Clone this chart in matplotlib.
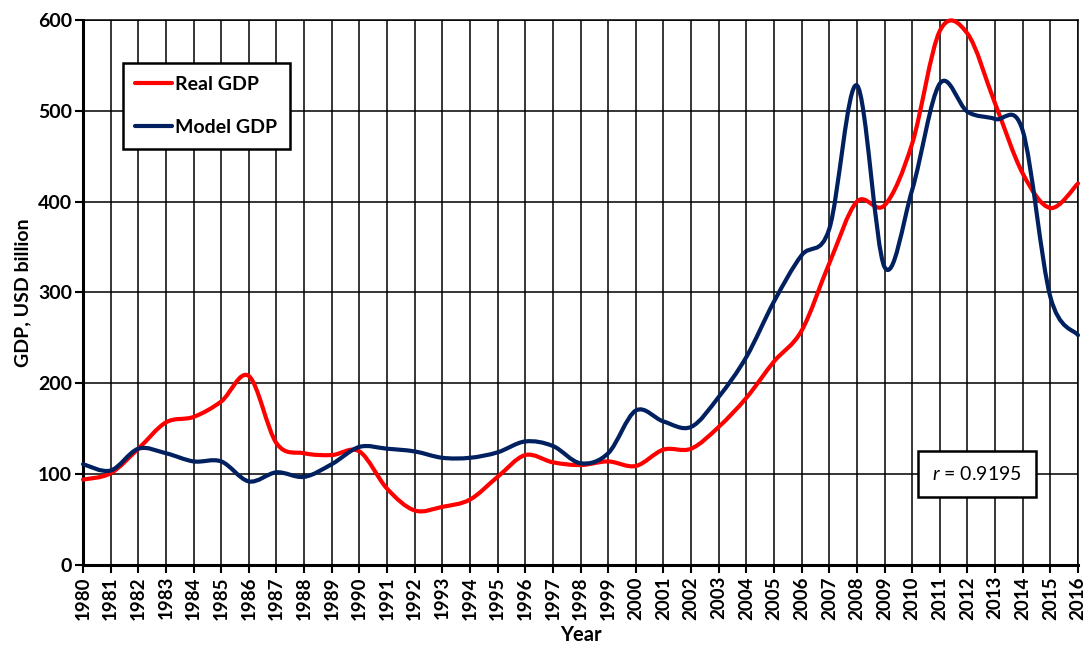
import matplotlib
matplotlib.use('Agg')
import numpy as np
import matplotlib.pyplot as plt
from matplotlib.path import Path
from matplotlib.patches import PathPatch
from matplotlib.lines import Line2D

plt.rcParams['font.family'] = ['Lato', 'DejaVu Sans']
plt.rcParams['mathtext.fontset'] = 'custom'
plt.rcParams['mathtext.rm'] = 'Lato'
plt.rcParams['mathtext.it'] = 'Lato:italic'

years = list(range(1980, 2017))
real_gdp = [94, 101, 128, 157, 163, 180, 208, 134, 123, 121, 125, 84, 60,
            64, 72, 97, 121, 113, 110, 114, 109, 127, 128, 152, 184, 224,
            258, 332, 400, 396, 464, 588, 585, 508, 431, 393, 420]
model_gdp = [111, 104, 128, 123, 114, 114, 92, 102, 97, 111, 130, 128, 125,
             118, 118, 124, 136, 131, 112, 123, 170, 158, 152, 185, 229, 290,
             341, 370, 528, 328, 413, 530, 499, 491, 478, 295, 253]
y_ticks = [0, 100, 200, 300, 400, 500, 600]


def smooth_path(xs, ys):
    # Excel-style smoothed line: cubic Bezier through every point
    p = np.column_stack([xs, ys]).astype(float)
    ext = np.vstack([p[0], p, p[-1]])
    verts = [p[0]]
    codes = [Path.MOVETO]
    for i in range(len(p) - 1):
        c1 = ext[i + 1] + (ext[i + 2] - ext[i]) / 6
        c2 = ext[i + 2] - (ext[i + 3] - ext[i + 1]) / 6
        verts += [c1, c2, p[i + 1]]
        codes += [Path.CURVE4] * 3
    return Path(verts, codes)


fig = plt.figure(figsize=(10.91, 6.53), dpi=100)
ax = fig.add_axes([0.0761, 0.1348, 0.912, 0.8346])

for vals, col in [(real_gdp, '#FF0000'), (model_gdp, '#002060')]:
    ax.add_patch(PathPatch(smooth_path(years, vals), facecolor='none',
                           edgecolor=col, lw=3.0, capstyle='round',
                           joinstyle='round', zorder=3, clip_on=False))

ax.set_xlim(1980, 2016)
ax.set_ylim(0, 600)
ax.set_xticks(years)
ax.set_xticklabels([str(y) for y in years], rotation=90, fontsize=13.5,
                   fontweight='bold')
ax.set_yticks(y_ticks)
ax.set_yticklabels([str(v) for v in y_ticks], fontsize=14, fontweight='bold')
ax.grid(True, color='black', lw=1.1)
ax.set_axisbelow(True)
ax.tick_params(direction='out', length=6, width=1.5, color='black', pad=2)
for side in ['left', 'bottom']:
    ax.spines[side].set_linewidth(2.2)
for side in ['top', 'right']:
    ax.spines[side].set_linewidth(1.1)

ax.set_xlabel('Year', fontsize=14.5, fontweight='bold', labelpad=4)
ax.set_ylabel('GDP, USD billion', fontsize=14, fontweight='bold', labelpad=5)

handles = [Line2D([], [], color='#FF0000', lw=3.0, solid_capstyle='round'),
           Line2D([], [], color='#002060', lw=3.0, solid_capstyle='round')]
leg = ax.legend(handles, ['Real GDP', 'Model GDP'], loc='upper left',
                bbox_to_anchor=(0.040, 0.921), borderaxespad=0,
                fancybox=False, framealpha=1, edgecolor='black',
                prop={'weight': 'bold', 'size': 14}, handlelength=1.9,
                handletextpad=0.15, labelspacing=1.35, borderpad=0.65)
leg.get_frame().set_linewidth(1.8)

ax.text(0.8985, 0.167, '$r$ = 0.9195', transform=ax.transAxes, fontsize=14,
        ha='center', va='center', zorder=5,
        bbox=dict(boxstyle='square,pad=0.72', facecolor='white',
                  edgecolor='black', lw=1.8))

fig.savefig('out.png', dpi=100)
